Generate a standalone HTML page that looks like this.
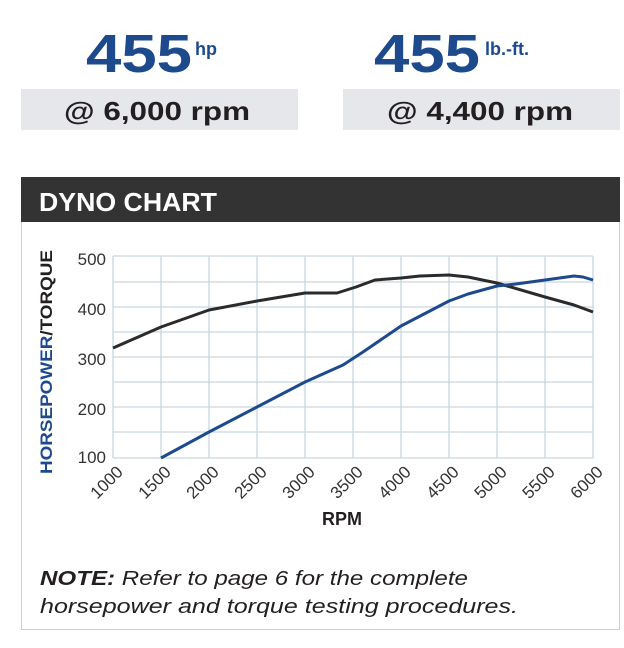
<!DOCTYPE html>
<html><head><meta charset="utf-8"><style>
html,body{margin:0;padding:0;background:#fff;width:624px;height:648px;overflow:hidden}
svg{display:block}
</style></head><body>
<svg width="624" height="648" viewBox="0 0 624 648" xmlns="http://www.w3.org/2000/svg" font-family="Liberation Sans, sans-serif">
<text x="86" y="72" font-size="54" font-weight="bold" fill="#1c4a8c" textLength="106" lengthAdjust="spacingAndGlyphs">455</text>
<text x="195" y="55" font-size="18" font-weight="bold" fill="#1c4a8c">hp</text>
<text x="374" y="72" font-size="54" font-weight="bold" fill="#1c4a8c" textLength="106" lengthAdjust="spacingAndGlyphs">455</text>
<text x="485" y="55" font-size="18" font-weight="bold" fill="#1c4a8c">lb.-ft.</text>
<rect x="21" y="89" width="277" height="41" fill="#e6e7ea"/>
<rect x="343" y="89" width="277" height="41" fill="#e6e7ea"/>
<text x="64" y="120" font-size="26" font-weight="bold" fill="#231f20" textLength="186" lengthAdjust="spacingAndGlyphs">@ 6,000 rpm</text>
<text x="387" y="120" font-size="26" font-weight="bold" fill="#231f20" textLength="186" lengthAdjust="spacingAndGlyphs">@ 4,400 rpm</text>
<rect x="21.5" y="177.5" width="598" height="452" fill="#fff" stroke="#cfcfcf"/>
<rect x="21" y="177" width="599" height="45" fill="#333333"/>
<text x="39" y="211" font-size="26" font-weight="bold" fill="#fff" textLength="178" lengthAdjust="spacingAndGlyphs">DYNO CHART</text>
<g stroke="#c9d6e0" stroke-width="1.3">
<line x1="113" y1="256" x2="593" y2="256"/><line x1="113" y1="282" x2="593" y2="282"/>
<line x1="113" y1="307" x2="593" y2="307"/><line x1="113" y1="332" x2="593" y2="332"/>
<line x1="113" y1="357" x2="593" y2="357"/><line x1="113" y1="382" x2="593" y2="382"/>
<line x1="113" y1="407" x2="593" y2="407"/><line x1="113" y1="432" x2="593" y2="432"/>
<line x1="113" y1="458" x2="593" y2="458"/>
<line x1="113" y1="256" x2="113" y2="458"/><line x1="161" y1="256" x2="161" y2="458"/>
<line x1="209" y1="256" x2="209" y2="458"/><line x1="257" y1="256" x2="257" y2="458"/>
<line x1="305" y1="256" x2="305" y2="458"/><line x1="353" y1="256" x2="353" y2="458"/>
<line x1="401" y1="256" x2="401" y2="458"/><line x1="449" y1="256" x2="449" y2="458"/>
<line x1="497" y1="256" x2="497" y2="458"/><line x1="545" y1="256" x2="545" y2="458"/>
<line x1="593" y1="256" x2="593" y2="458"/>
</g>
<g font-size="17" fill="#333" text-anchor="end">
<text x="106" y="265">500</text><text x="106" y="315">400</text>
<text x="106" y="365">300</text><text x="106" y="415">200</text><text x="106" y="463">100</text>
</g>
<text transform="translate(52,474) rotate(-90)" font-size="17" font-weight="bold" textLength="224" lengthAdjust="spacingAndGlyphs"><tspan fill="#1c4a8c">HORSEPOWER</tspan><tspan fill="#231f20">/TORQUE</tspan></text>
<g font-size="17" fill="#333" text-anchor="end">
<text transform="translate(124,473) rotate(-45)">1000</text>
<text transform="translate(172,473) rotate(-45)">1500</text>
<text transform="translate(220,473) rotate(-45)">2000</text>
<text transform="translate(268,473) rotate(-45)">2500</text>
<text transform="translate(316,473) rotate(-45)">3000</text>
<text transform="translate(364,473) rotate(-45)">3500</text>
<text transform="translate(412,473) rotate(-45)">4000</text>
<text transform="translate(460,473) rotate(-45)">4500</text>
<text transform="translate(508,473) rotate(-45)">5000</text>
<text transform="translate(556,473) rotate(-45)">5500</text>
<text transform="translate(604,473) rotate(-45)">6000</text>
</g>
<text x="342" y="525" font-size="18" font-weight="bold" fill="#231f20" text-anchor="middle">RPM</text>
<polyline fill="none" stroke="#2b2b2b" stroke-width="3" stroke-linejoin="round"
points="113,348 161,327 209,310 257,301 305,293 337,293 356,287 375,280 401,278 420,276 449,275 468,277 497,283 545,297 574,305 593,312"/>
<polyline fill="none" stroke="#1c4a8c" stroke-width="3" stroke-linejoin="round"
points="161,458 209,432 257,407 305,382 343,365 363,352 401,326 449,301 468,294 497,286 516,284 545,280 574,276 583,277 593,280"/>
<text x="40" y="585" font-size="20" font-style="italic" fill="#231f20" textLength="428" lengthAdjust="spacingAndGlyphs"><tspan font-weight="bold">NOTE:</tspan> Refer to page 6 for the complete</text>
<text x="40" y="613" font-size="20" font-style="italic" fill="#231f20" textLength="478" lengthAdjust="spacingAndGlyphs">horsepower and torque testing procedures.</text>
</svg>
</body></html>
